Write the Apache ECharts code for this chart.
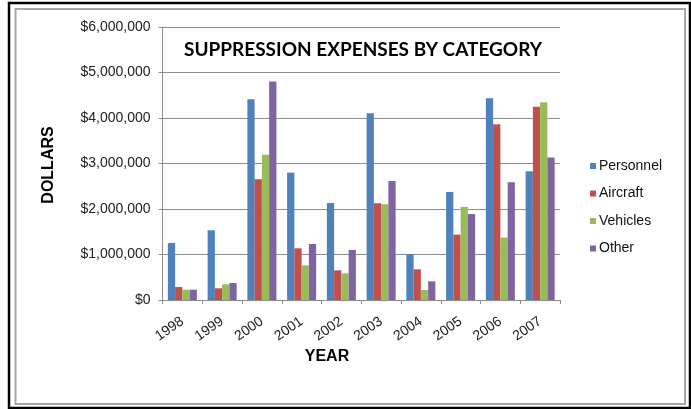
<!DOCTYPE html>
<html>
<head>
<meta charset="utf-8">
<script src="https://cdn.jsdelivr.net/npm/echarts@6/dist/echarts.min.js"></script>
<style>
  html, body { margin: 0; padding: 0; background: #fff; }
  #chart { width: 691px; height: 409px; }
</style>
</head>
<body>
<div id="chart"></div>
<script>
// Fire suppression spending per year, split by category (US dollars)
const years = ['1998', '1999', '2000', '2001', '2002', '2003', '2004', '2005', '2006', '2007'];
const personnel = [1254000, 1532000, 4410000, 2800000, 2133000, 4105000, 1004000, 2375000, 4435000, 2830000];
const aircraft  = [286000, 257000, 2654000, 1136000, 652000, 2126000, 674000, 1437000, 3864000, 4250000];
const vehicles  = [227000, 345000, 3190000, 762000, 587000, 2104000, 220000, 2045000, 1371000, 4347000];
const other     = [227000, 374000, 4800000, 1230000, 1100000, 2617000, 410000, 1890000, 2588000, 3130000];
const seriesNames = ['Personnel', 'Aircraft', 'Vehicles', 'Other'];
const seriesColors = ['#4F81BD', '#C0504D', '#9BBB59', '#8064A2'];

const chart = echarts.init(document.getElementById('chart'), null, { renderer: 'canvas' });

function dollars(v) {
  return '$' + String(v).replace(/\B(?=(\d{3})+(?!\d))/g, ',');
}

const gridColor = '#8c8c8c';
const labelFont = 'Liberation Sans, Arial, sans-serif';

const seriesData = [personnel, aircraft, vehicles, other];

chart.setOption({
  animation: false,
  backgroundColor: '#ffffff',
  grid: { left: 162.5, right: 131, top: 27, bottom: 109, containLabel: false },
  legend: {
    orient: 'vertical',
    left: 585,
    top: 154,
    itemWidth: 6,
    itemHeight: 6,
    itemGap: 13.5,
    icon: 'rect',
    textStyle: { fontFamily: labelFont, fontSize: 14, color: '#111', lineHeight: 14, padding: [0, 0, 0, -2] },
    data: seriesNames
  },
  xAxis: {
    type: 'category',
    data: years,
    axisLine: { lineStyle: { color: gridColor, width: 1 } },
    axisTick: { show: true, length: 4, lineStyle: { color: gridColor } },
    axisLabel: { rotate: 35, margin: 20, fontFamily: labelFont, fontSize: 14, color: '#222' }
  },
  yAxis: {
    type: 'value',
    min: 0,
    max: 6000000,
    interval: 1000000,
    axisLine: { show: true, lineStyle: { color: gridColor, width: 1 } },
    axisTick: { show: true, length: 4, lineStyle: { color: gridColor } },
    splitLine: { lineStyle: { color: gridColor, width: 1 } },
    axisLabel: { margin: 12, fontFamily: labelFont, fontSize: 14, color: '#222', formatter: dollars }
  },
  series: seriesNames.map((name, i) => ({
    name: name,
    type: 'bar',
    data: seriesData[i],
    barGap: '0%',
    barCategoryGap: '27%',
    itemStyle: { color: seriesColors[i] }
  })),
  graphic: [
    {
      type: 'rect',
      shape: { x: 9, y: 3, width: 681, height: 405 },
      style: { fill: 'none', stroke: '#000', lineWidth: 2.5 },
      silent: true
    },
    {
      type: 'rect',
      shape: { x: 15.5, y: 9, width: 669.5, height: 395 },
      style: { fill: 'none', stroke: '#a6a6a6', lineWidth: 2 },
      silent: true
    },
    {
      type: 'text',
      left: 184,
      top: 40,
      style: {
        text: 'SUPPRESSION EXPENSES BY CATEGORY',
        font: 'bold 19px Lato, "Open Sans", sans-serif',
        fill: '#000'
      }
    },
    {
      type: 'text',
      x: 327,
      y: 357,
      style: {
        text: 'YEAR',
        font: 'bold 16px ' + labelFont,
        fill: '#000',
        align: 'center',
        verticalAlign: 'middle'
      }
    },
    {
      type: 'text',
      x: 49,
      y: 165,
      rotation: Math.PI / 2,
      style: {
        text: 'DOLLARS',
        font: 'bold 16px ' + labelFont,
        fill: '#000',
        align: 'center',
        verticalAlign: 'middle'
      }
    }
  ]
});
</script>
</body>
</html>
